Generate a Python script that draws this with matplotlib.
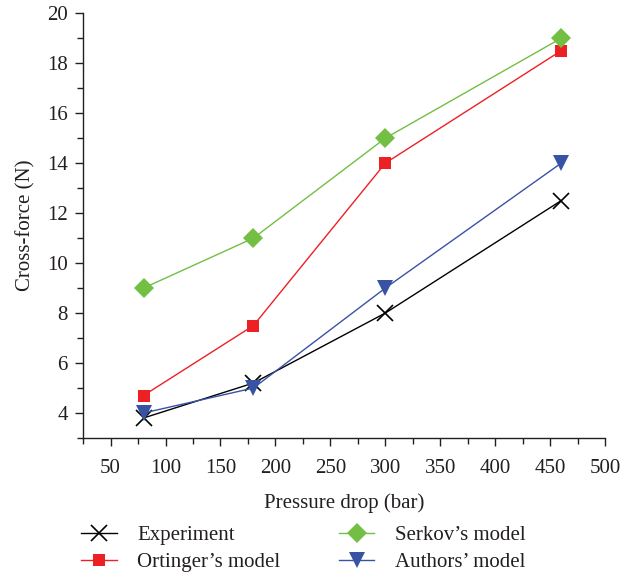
import matplotlib
matplotlib.use("Agg")
import matplotlib.pyplot as plt
from matplotlib.ticker import MultipleLocator

plt.rcParams["font.family"] = ["Liberation Serif", "DejaVu Serif"]

pressure = [80, 180, 300, 460]
experiment = [3.8, 5.2, 8.0, 12.5]
ortinger = [4.7, 7.5, 14.0, 18.5]
serkov = [9.0, 11.0, 15.0, 19.0]
authors = [4.0, 5.0, 9.0, 14.0]

FS = 15
INK = "#231F20"

fig = plt.figure(figsize=(6.2, 5.76), dpi=100)
ax = fig.add_axes([0.134, 0.2396, 0.842, 0.7374])

ax.plot(pressure, experiment, color="black", lw=1, marker="x", ms=12,
        mew=1.2, label="Experiment", zorder=3)
ax.plot(pressure, ortinger, color="#ED2024", lw=1, marker="s", ms=9,
        mew=0, label="Ortinger\u2019s model", zorder=3)
ax.plot(pressure, serkov, color="#72BF44", lw=1, marker="D", ms=10,
        mew=0, label="Serkov\u2019s model", zorder=3)
ax.plot(pressure, authors, color="#3953A4", lw=1, marker="v", ms=12,
        mew=0, label="Authors\u2019 model", zorder=3)

ax.set_xlim(25, 500)
ax.set_ylim(3, 20)
ax.xaxis.set_major_locator(MultipleLocator(50))
ax.xaxis.set_minor_locator(MultipleLocator(25))
ax.yaxis.set_minor_locator(MultipleLocator(1))
ax.set_yticks([4, 6, 8, 10, 12, 14, 16, 18, 20])

for side in ("top", "right"):
    ax.spines[side].set_visible(False)
for side in ("left", "bottom"):
    ax.spines[side].set_linewidth(1.0)
    ax.spines[side].set_color(INK)

ax.tick_params(which="major", direction="out", length=6, width=1,
               labelsize=FS, colors=INK)
ax.tick_params(which="minor", direction="out", length=4, width=1,
               colors=INK)
ax.tick_params(axis="x", pad=9)
ax.tick_params(axis="y", pad=5)

ax.set_xlabel("Pressure drop (bar)", fontsize=FS, color=INK, labelpad=11)
ax.set_ylabel("Cross-force (N)", fontsize=FS, color=INK, labelpad=8)

fig.legend(loc="upper left", bbox_to_anchor=(0.131, 0.087), ncol=2,
           frameon=False, fontsize=FS, handlelength=1.7, handletextpad=1.0,
           columnspacing=2.8, labelspacing=0.35, borderaxespad=0,
           borderpad=0, labelcolor=INK)

fig.savefig("out.png", dpi=100)
